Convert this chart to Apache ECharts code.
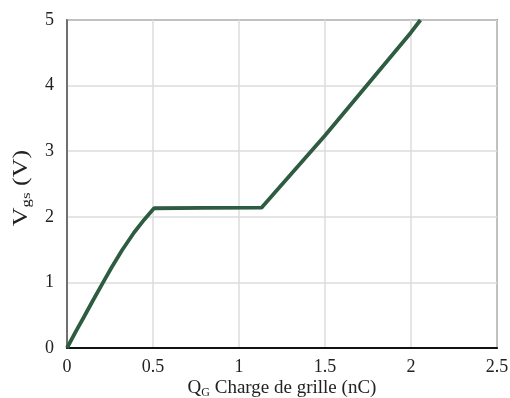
<!DOCTYPE html>
<html><head><meta charset="utf-8">
<script src="https://cdn.jsdelivr.net/npm/echarts@6/dist/echarts.min.js"></script>
<style>html,body{margin:0;padding:0;background:#fff}#c{width:510px;height:398px}</style>
</head><body><div id="c"></div>
<script>
const chargeNC = [0, 0.05, 0.1, 0.15, 0.21, 0.26, 0.32, 0.39, 0.45, 0.506, 0.8, 1.132, 1.5, 2.0, 2.055];
const vgsV =     [0, 0.245, 0.48, 0.72, 1.0, 1.23, 1.49, 1.76, 1.96, 2.13, 2.135, 2.14, 3.24, 4.81, 5.0];
const xTicks = [0, 0.5, 1, 1.5, 2, 2.5];
const yTicks = [0, 1, 2, 3, 4, 5];
const data = chargeNC.map((x, i) => [x, vgsV[i]]);
const font = 'Liberation Serif';
const chart = echarts.init(document.getElementById('c'));
chart.setOption({
  animation: false,
  grid: {left: 67, right: 13, top: 20, bottom: 50, show: true, borderColor: '#444', borderWidth: 1.5,
         outerBoundsMode: 'none', containLabel: false},
  xAxis: {
    type: 'value', min: 0, max: 2.5, interval: 0.5,
    axisLine: {show: true, lineStyle: {color: '#111', width: 2}},
    axisTick: {show: false},
    splitLine: {show: true, lineStyle: {color: '#dcdcdc', width: 1.5}},
    axisLabel: {color: '#222', fontFamily: font, fontSize: 18, margin: 10,
      formatter: v => xTicks.includes(v) ? String(v) : ''},
    name: '{a|Q}{s|G}{a| Charge de grille (nC)}',
    nameLocation: 'middle', nameGap: 30, nameMoveOverlap: false,
    nameTextStyle: {rich: {
      a: {fontFamily: font, fontSize: 19, color: '#222'},
      s: {fontFamily: font, fontSize: 12, color: '#222', verticalAlign: 'bottom', padding: [9,0,0,0]}
    }}
  },
  yAxis: {
    type: 'value', min: 0, max: 5, interval: 1,
    axisLine: {show: true, lineStyle: {color: '#555', width: 1.5}},
    axisTick: {show: false},
    splitLine: {show: true, lineStyle: {color: '#dcdcdc', width: 1.5}},
    axisLabel: {color: '#222', fontFamily: font, fontSize: 18, margin: 13,
      formatter: v => yTicks.includes(v) ? String(v) : ''}
  },
  graphic: [{
    type: 'text', x: 22, y: 188, rotation: Math.PI / 2, scaleX: 1.3,
    style: {
      text: '{a|V}{s|gs}{a| (V)}', align: 'center', verticalAlign: 'middle',
      rich: {
        a: {fontFamily: font, fontSize: 20, fill: '#222'},
        s: {fontFamily: font, fontSize: 13, fill: '#222', padding: [10,0,0,0]}
      }
    }
  }],
  series: [{
    type: 'line', data: data, showSymbol: false, symbol: 'none',
    lineStyle: {color: '#2e5c40', width: 3.8}, clip: true
  }]
});
</script></body></html>
